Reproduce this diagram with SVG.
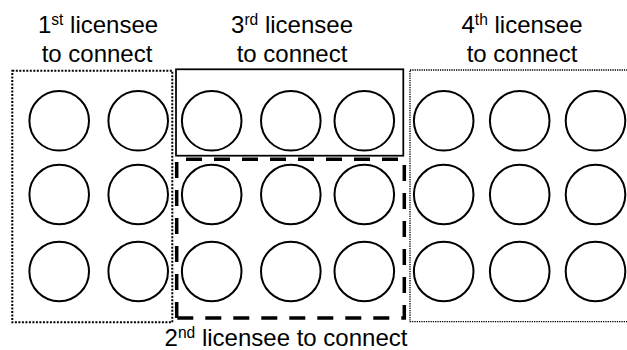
<svg xmlns="http://www.w3.org/2000/svg" width="627" height="350" viewBox="0 0 627 350">
<style>
  .lbl { font-family: "Liberation Sans", Arial, sans-serif; font-size: 24px; fill: #000; text-anchor: middle; }
  .sup { font-size: 15.6px; }
  .cell { fill: #fff; stroke: #000; stroke-width: 2; }
  .b1 { fill: none; stroke: #000; stroke-width: 2; stroke-dasharray: 2 1.5; }
  .b4 { fill: none; stroke: #000; stroke-width: 1.3; stroke-dasharray: 1.3 1; }
  .b3 { fill: none; stroke: #000; stroke-width: 1.75; }
  .b2 { fill: none; stroke: #000; stroke-width: 3.5; stroke-dasharray: 16 12; }
</style>
<rect width="627" height="350" fill="#fff"/>

<g id="cells">
  <g id="row1">
    <circle class="cell" cx="59.2" cy="120.8" r="29.8"/>
    <circle class="cell" cx="138.2" cy="120.8" r="29.8"/>
    <circle class="cell" cx="211.7" cy="120.8" r="29.8"/>
    <circle class="cell" cx="290.8" cy="120.8" r="29.8"/>
    <circle class="cell" cx="364.3" cy="120.8" r="29.8"/>
    <circle class="cell" cx="443.7" cy="120.8" r="29.8"/>
    <circle class="cell" cx="519.7" cy="120.8" r="29.8"/>
    <circle class="cell" cx="595.5" cy="120.8" r="29.8"/>
  </g>
  <g id="row2">
    <circle class="cell" cx="59.2" cy="194.5" r="29.8"/>
    <circle class="cell" cx="138.2" cy="194.5" r="29.8"/>
    <circle class="cell" cx="211.7" cy="194.5" r="29.8"/>
    <circle class="cell" cx="290.8" cy="194.5" r="29.8"/>
    <circle class="cell" cx="364.3" cy="194.5" r="29.8"/>
    <circle class="cell" cx="443.7" cy="194.5" r="29.8"/>
    <circle class="cell" cx="519.7" cy="194.5" r="29.8"/>
    <circle class="cell" cx="595.5" cy="194.5" r="29.8"/>
  </g>
  <g id="row3">
    <circle class="cell" cx="59.2" cy="271.5" r="29.8"/>
    <circle class="cell" cx="138.2" cy="271.5" r="29.8"/>
    <circle class="cell" cx="211.7" cy="271.5" r="29.8"/>
    <circle class="cell" cx="290.8" cy="271.5" r="29.8"/>
    <circle class="cell" cx="364.3" cy="271.5" r="29.8"/>
    <circle class="cell" cx="443.7" cy="271.5" r="29.8"/>
    <circle class="cell" cx="519.7" cy="271.5" r="29.8"/>
    <circle class="cell" cx="595.5" cy="271.5" r="29.8"/>
  </g>
</g>

<g id="licensee1">
  <rect class="b1" x="12.3" y="70.7" width="160" height="251.6"/>
  <text class="lbl" x="98" y="33.3">1<tspan class="sup" dy="-8">st</tspan><tspan dy="8"> licensee</tspan></text>
  <text class="lbl" x="97" y="62.3">to connect</text>
</g>

<g id="licensee3">
  <rect class="b3" x="176" y="69.3" width="227.3" height="86.4"/>
  <text class="lbl" x="292" y="33.3">3<tspan class="sup" dy="-8">rd</tspan><tspan dy="8"> licensee</tspan></text>
  <text class="lbl" x="292" y="62.3">to connect</text>
</g>

<g id="licensee4">
  <rect class="b4" x="410" y="70" width="222" height="251.7"/>
  <text class="lbl" x="522" y="33.3">4<tspan class="sup" dy="-8">th</tspan><tspan dy="8"> licensee</tspan></text>
  <text class="lbl" x="522" y="62.3">to connect</text>
</g>

<g id="licensee2">
  <path class="b2" d="M176.7,318 V159.3 H404.3 V318 Z"/>
  <text class="lbl" x="286" y="346">2<tspan class="sup" dy="-8">nd</tspan><tspan dy="8"> licensee to connect</tspan></text>
</g>
</svg>
